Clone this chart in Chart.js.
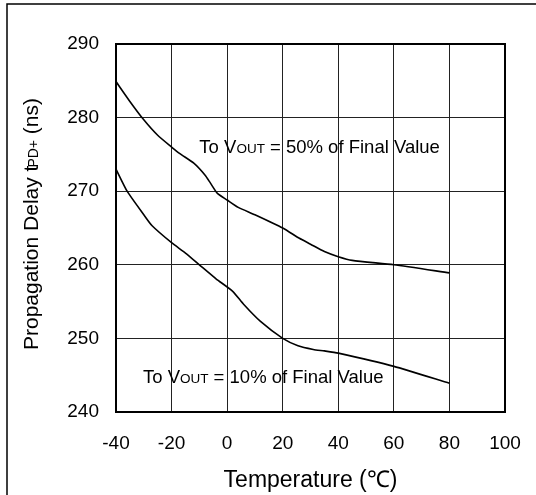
<!DOCTYPE html>
<html>
<head>
<meta charset="utf-8">
<script src="https://cdn.jsdelivr.net/npm/chart.js@4.4.1/dist/chart.umd.min.js"></script>
<style>
  html, body { margin: 0; padding: 0; background: #fff; }
  #wrap { width: 536px; height: 495px; }
</style>
</head>
<body>
<div id="wrap"><canvas id="chart" width="536" height="495"></canvas></div>
<script>
// temperature (C) / propagation delay (ns)
var temp50 = [-40, -35, -30, -25, -20, -17, -12, -8, -6, -3.5, 0, 4, 10, 20, 26, 30, 35, 40, 45, 60, 80];
var delay50 = [284.9, 282.2, 279.7, 277.6, 276.0, 275.1, 273.8, 272.2, 271.1, 269.7, 268.8, 267.8, 266.8, 265.0, 263.6, 262.8, 261.8, 261.1, 260.6, 260.0, 258.9];

var temp10 = [-40, -36, -30, -27, -20, -15, -10, -4, 2, 6, 12, 20, 25.5, 31, 35, 40, 60, 80];
var delay10 = [273.0, 270.0, 266.8, 265.3, 263.0, 261.6, 260.0, 258.1, 256.4, 254.6, 252.3, 250.0, 249.0, 248.5, 248.3, 248.0, 246.2, 243.9];

var xTicks = [-40, -20, 0, 20, 40, 60, 80, 100];
var yTicks = [240, 250, 260, 270, 280, 290];

var FONT = "'Liberation Sans', Arial, sans-serif";

function pts(xs, ys) {
  var out = [];
  for (var i = 0; i < xs.length; i++) out.push({ x: xs[i], y: ys[i] });
  return out;
}

// draws "To VOUT = nn% of Final Value" with the small caps OUT
function drawVout(ctx, x, y, pct) {
  ctx.font = "18.5px " + FONT;
  ctx.fillText("To V", x, y);
  x += ctx.measureText("To V").width;
  ctx.font = "13.5px " + FONT;
  ctx.fillText("OUT", x, y);
  x += ctx.measureText("OUT").width;
  ctx.font = "18.5px " + FONT;
  ctx.fillText(" = " + pct + " of Final Value", x, y);
}

var decor = {
  id: 'decor',
  beforeDraw: function (chart) {
    var ctx = chart.ctx;
    ctx.save();
    ctx.fillStyle = '#fff';
    ctx.fillRect(0, 0, chart.width, chart.height);
    // outer frame
    ctx.strokeStyle = '#000';
    ctx.lineWidth = 1.5;
    ctx.beginPath();
    ctx.moveTo(536, 4);
    ctx.lineTo(7, 4);
    ctx.lineTo(7, 495);
    ctx.stroke();
    ctx.restore();
  },
  afterDraw: function (chart) {
    var ctx = chart.ctx;
    var xs = chart.scales.x, ys = chart.scales.y;
    var area = chart.chartArea;
    ctx.save();
    // plot frame
    ctx.strokeStyle = '#000';
    ctx.lineWidth = 2;
    ctx.strokeRect(area.left, area.top, area.right - area.left, area.bottom - area.top);

    ctx.fillStyle = '#000';
    ctx.textBaseline = 'alphabetic';
    ctx.textAlign = 'left';

    drawVout(ctx, xs.getPixelForValue(-10), ys.getPixelForValue(275.2), '50%');
    drawVout(ctx, xs.getPixelForValue(-30.3), ys.getPixelForValue(244.0), '10%');

    // x title
    ctx.font = "23px " + FONT;
    ctx.textAlign = 'center';
    ctx.fillText("Temperature (\u2103)", (area.left + area.right) / 2, 487);

    // y title, rotated, with small PD+
    var a = "Propagation Delay t", b = "PD+", c = " (ns)";
    ctx.font = "21px " + FONT;
    var wa = ctx.measureText(a).width, wc = ctx.measureText(c).width;
    ctx.font = "14px " + FONT;
    var wb = ctx.measureText(b).width;
    var total = wa + wb + wc - 2;
    ctx.translate(37.5, 224);
    ctx.rotate(-Math.PI / 2);
    ctx.textAlign = 'left';
    var px = -total / 2;
    ctx.font = "21px " + FONT;
    ctx.fillText(a, px, 0);
    px += wa - 2;
    ctx.font = "14px " + FONT;
    ctx.fillText(b, px, 0);
    px += wb;
    ctx.font = "21px " + FONT;
    ctx.fillText(c, px, 0);
    ctx.restore();
  }
};

var lineStyle = {
  borderColor: '#000',
  borderWidth: 1.6,
  pointRadius: 0,
  tension: 0.2,
  fill: false
};

new Chart(document.getElementById('chart'), {
  type: 'line',
  data: {
    datasets: [
      Object.assign({ label: '50%', data: pts(temp50, delay50) }, lineStyle),
      Object.assign({ label: '10%', data: pts(temp10, delay10) }, lineStyle)
    ]
  },
  options: {
    responsive: false,
    animation: false,
    devicePixelRatio: 1,
    layout: { padding: { left: 0, right: 31, top: 44, bottom: 0 } },
    plugins: { legend: { display: false }, tooltip: { enabled: false } },
    scales: {
      x: {
        type: 'linear',
        min: -40, max: 100,
        afterBuildTicks: function (s) { s.ticks = xTicks.map(function (v) { return { value: v }; }); },
        afterFit: function (s) { s.height = 83; s.paddingLeft = 0; s.paddingRight = 0; },
        grid: { color: '#222', lineWidth: 1, drawTicks: false },
        border: { color: '#000', width: 2 },
        ticks: { color: '#000', font: { family: FONT, size: 19 }, padding: 20, maxRotation: 0 }
      },
      y: {
        min: 240, max: 290,
        afterBuildTicks: function (s) { s.ticks = yTicks.map(function (v) { return { value: v }; }); },
        afterFit: function (s) { s.width = 116; s.paddingTop = 0; s.paddingBottom = 0; },
        grid: { color: '#222', lineWidth: 1, drawTicks: false },
        border: { color: '#000', width: 2 },
        ticks: { color: '#000', font: { family: FONT, size: 19 }, padding: 17 }
      }
    }
  },
  plugins: [decor]
});
</script>
</body>
</html>
